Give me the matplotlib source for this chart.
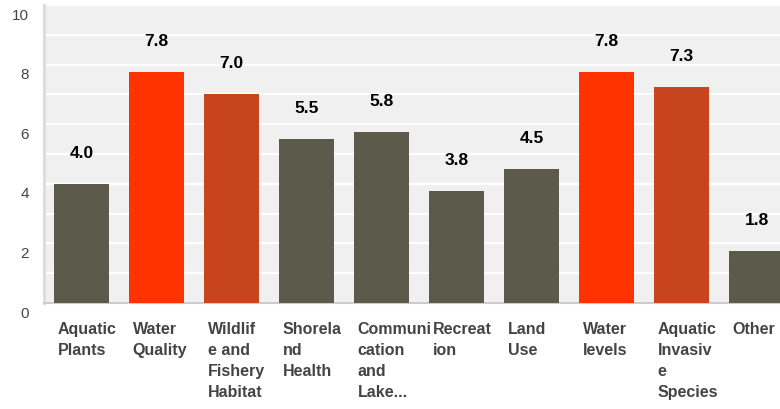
import matplotlib
matplotlib.use('Agg')
import matplotlib.pyplot as plt
from matplotlib.transforms import ScaledTranslation
import numpy as np

plt.rcParams['font.family'] = ['Liberation Sans', 'DejaVu Sans']

categories = ['Aquatic\nPlants', 'Water\nQuality', 'Wildlif\ne and\nFishery\nHabitat',
              'Shorela\nnd\nHealth', 'Communi\ncation\nand\nLake...', 'Recreat\nion',
              'Land\nUse', 'Water\nlevels', 'Aquatic\nInvasiv\ne\nSpecies', 'Other']
values = [4.0, 7.75, 7.0, 5.5, 5.75, 3.75, 4.5, 7.75, 7.25, 1.75]
value_labels = ['4.0', '7.8', '7.0', '5.5', '5.8', '3.8', '4.5', '7.8', '7.3', '1.8']
colors = ['#5c5a4b', '#ff3300', '#c8441d', '#5c5a4b', '#5c5a4b', '#5c5a4b',
          '#5c5a4b', '#ff3300', '#c8441d', '#5c5a4b']
yticks = [0, 2, 4, 6, 8, 10]

W, H = 780, 409
fig = plt.figure(figsize=(W / 100, H / 100), dpi=100)
# axes runs past the right edge, like the original (last bar is clipped)
ax = fig.add_axes([44 / W, (H - 303) / H, 750 / W, 298 / H])
ax.set_facecolor('#f0f0f0')

x = np.arange(len(categories))
bw = 55 / 75
ax.bar(x, values, width=bw, color=colors, zorder=3)

ax.set_xlim(-0.5, len(categories) - 0.5)
ax.set_ylim(0, 10)
ax.set_yticks(yticks)
ax.set_yticks(np.arange(1, 10, 2), minor=True)
ax.grid(True, axis='y', which='both', color='white', linewidth=1.6, zorder=1)
ax.tick_params(axis='y', which='both', length=0, pad=11, labelsize=11, labelcolor='#444444')
ax.set_xticks([])

for lbl in ax.get_yticklabels():
    lbl.set_transform(lbl.get_transform() + ScaledTranslation(0, -9 / 100, fig.dpi_scale_trans))

for s in ['top', 'right']:
    ax.spines[s].set_visible(False)
ax.spines['left'].set_color('#dddddd')
ax.spines['left'].set_linewidth(2.2)
ax.spines['bottom'].set_color('#cccccc')
ax.spines['bottom'].set_linewidth(1.5)

for i, (v, t) in enumerate(zip(values, value_labels)):
    ax.annotate(t, (i, v), xytext=(0, 26), textcoords='offset pixels',
                ha='center', va='baseline', fontsize=12.5, fontweight='bold',
                color='black')

for i, c in enumerate(categories):
    ax.text(i - bw / 2 + 0.05, -19 / 298, c, transform=ax.get_xaxis_transform(),
            ha='left', va='top', fontsize=11.5, fontweight='bold', color='#444444',
            linespacing=1.5)

fig.savefig('out.png', dpi=100)
